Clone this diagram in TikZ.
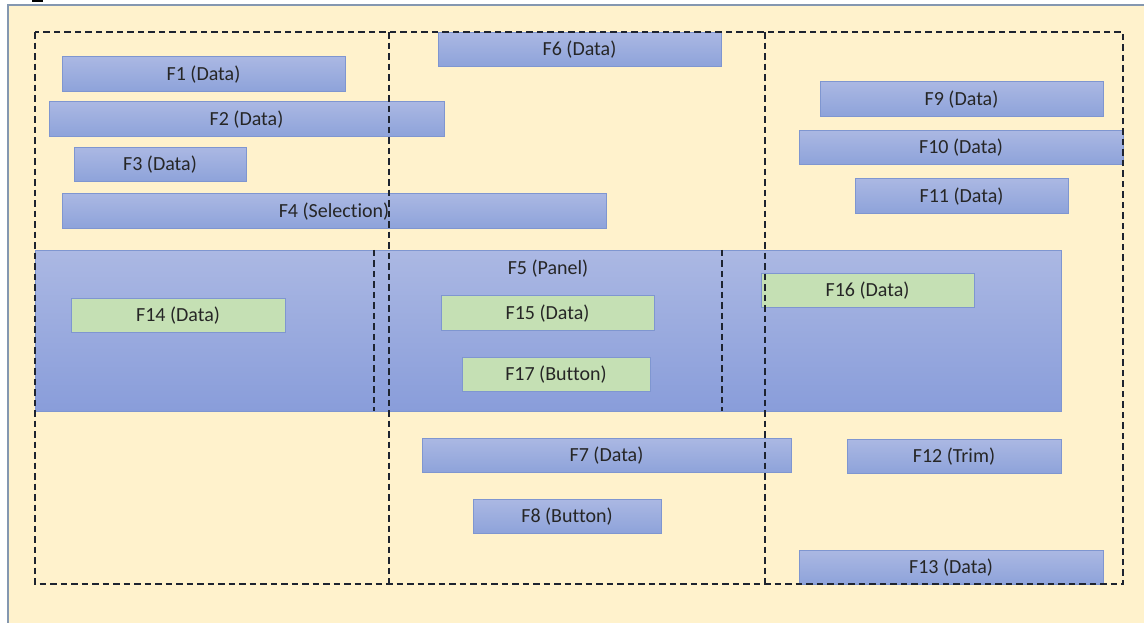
\documentclass[tikz,border=0pt]{standalone}
\usepackage{fontspec}
\setmainfont{Carlito}[Ligatures=NoCommon]
\usepackage{tikz}
\usetikzlibrary{positioning,calc}
\definecolor{sheet}{RGB}{255,242,204}
\definecolor{sheetline}{RGB}{132,151,176}
\definecolor{fieldtop}{RGB}{171,184,227}
\definecolor{fieldbot}{RGB}{142,163,218}
\definecolor{fieldline}{RGB}{127,150,208}
\definecolor{panelbot}{RGB}{137,157,218}
\definecolor{inner}{RGB}{197,224,180}
\definecolor{zone}{RGB}{30,36,48}
\definecolor{txt}{RGB}{38,38,38}

\begin{document}
\begin{tikzpicture}[x=1pt, y=-1pt, font=\fontsize{20}{24}\selectfont, text=txt,
  databox/.style={draw=fieldline, top color=fieldtop, bottom color=fieldbot, minimum height=35pt, inner sep=0pt, text height=13pt, text depth=0pt},
  greenbox/.style={draw=fieldline, fill=inner, minimum height=34pt, inner sep=0pt, text height=13pt, text depth=0pt},
  panelbox/.style={draw=fieldline, top color=fieldtop, bottom color=panelbot, inner sep=0pt},
  zoneline/.style={draw=zone, line width=1.7pt, dash pattern=on 6.5pt off 4pt}]
\useasboundingbox (0,0) rectangle (1144,622);
\fill[sheet] (8,5) rectangle (1150,630);
\draw[sheetline, line width=2pt] (8,630) -- (8,5) -- (1150,5);
\fill[black] (32,0) rectangle (43,2);

% top left column
\node(f1)[databox, minimum width=283pt] at (203.5,73.5) {F1 (Data)};
\node(f2)[databox, minimum width=395pt] at (246.5,118.5) {F2 (Data)};
\node(f3)[databox, minimum width=172pt, minimum height=34pt] at (160,164) {F3 (Data)};
\node(f4)[databox, minimum width=544pt] at (334,210.5) {F4 (Selection)};
\node(f6)[databox, minimum width=283pt, minimum height=34pt] at (579.5,49) {F6 (Data)};

% right column
\node(f9)[databox, minimum width=283pt] at (961.5,98.5) {F9 (Data)};
\node(f10)[databox, minimum width=324pt, minimum height=34pt] at (961,147) {F10 (Data)};
\node(f11)[databox, minimum width=213pt] at (961.5,195.5) {F11 (Data)};

% panel
\node(f5)[panelbox, minimum width=1026pt, minimum height=161pt,
  label={[anchor=center, yshift=-19pt]north:F5 (Panel)}] at (548,330.5) {};
\node(f14)[greenbox, minimum width=214pt] at (178,315) {F14 (Data)};
\node(f15)[greenbox, minimum width=213pt, minimum height=35pt] at (547.5,312.5) {F15 (Data)};
\node(f17)[greenbox, minimum width=188pt] at (556,374) {F17 (Button)};
\node(f16)[greenbox, minimum width=213pt] at (867.5,290) {F16 (Data)};

% lower part
\node(f7)[databox, minimum width=369pt, minimum height=34pt] at (606.5,455) {F7 (Data)};
\node(f8)[databox, minimum width=188pt, minimum height=34pt] at (567,516) {F8 (Button)};
\node(f12)[databox, minimum width=214pt, minimum height=34pt] at (954,456) {F12 (Trim)};
\node(f13)[databox, minimum width=304pt, minimum height=34pt] at (951,567) {F13 (Data)};

% dashed zones
\coordinate(zoneNW) at (35,32);
\coordinate(zoneSE) at (1123,584);
\draw[zoneline] (zoneNW) rectangle (zoneSE);
\draw[zoneline] (zoneNW -| 389,0) -- (zoneSE -| 389,0);
\draw[zoneline] (zoneNW -| 765,0) -- (zoneSE -| 765,0);
\draw[zoneline] (f5.north -| 374,0) -- (f5.south -| 374,0);
\draw[zoneline] (f5.north -| 722,0) -- (f5.south -| 722,0);
\end{tikzpicture}
\end{document}
